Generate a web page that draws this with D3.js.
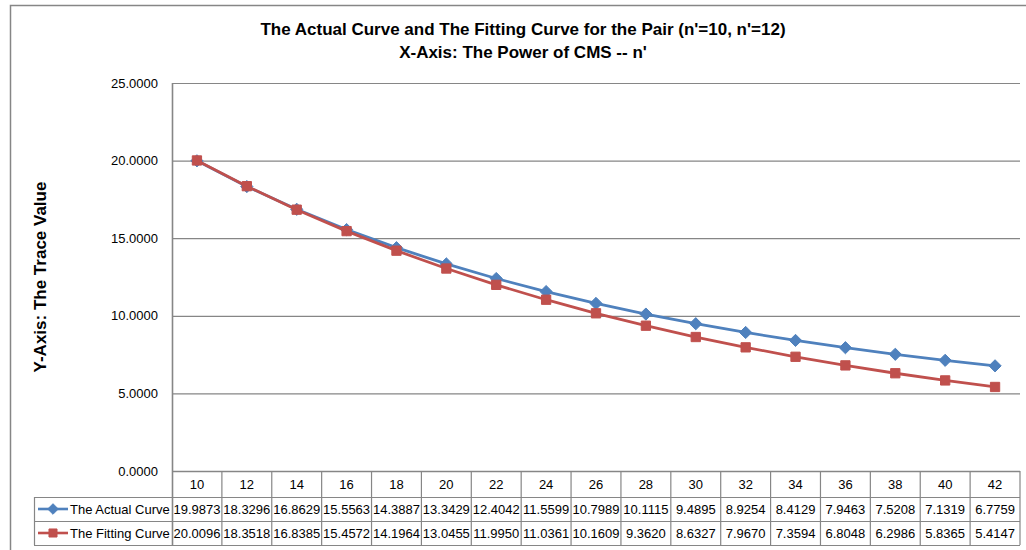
<!DOCTYPE html>
<html>
<head>
<meta charset="utf-8">
<script src="https://cdn.jsdelivr.net/npm/d3@7"></script>
<style>
  html, body { margin: 0; padding: 0; background: #fff; }
  svg { display: block; }
  text { font-family: "Liberation Sans", Arial, sans-serif; fill: #000; }
</style>
</head>
<body>
<svg id="chart" width="1026" height="550"></svg>
<script>
// n' values along the x axis
const categories = [10, 12, 14, 16, 18, 20, 22, 24, 26, 28, 30, 32, 34, 36, 38, 40, 42];
// Trace values of the actual curve
const actualValues = [19.9873, 18.3296, 16.8629, 15.5563, 14.3887, 13.3429, 12.4042, 11.5599, 10.7989,
  10.1115, 9.4895, 8.9254, 8.4129, 7.9463, 7.5208, 7.1319, 6.7759];
// Trace values of the fitting curve
const fittingValues = [20.0096, 18.3518, 16.8385, 15.4572, 14.1964, 13.0455, 11.9950, 11.0361, 10.1609,
  9.3620, 8.6327, 7.9670, 7.3594, 6.8048, 6.2986, 5.8365, 5.4147];
const seriesNames = ["The Actual Curve", "The Fitting Curve"];
const yTicks = [0, 5, 10, 15, 20, 25];
const titleLines = ["The Actual Curve and The Fitting Curve for the Pair (n'=10, n'=12)",
  "X-Axis: The Power of CMS -- n'"];
const yAxisTitle = "Y-Axis: The Trace Value";

const series = [
  { name: seriesNames[0], values: actualValues, color: "#4F81BD", symbol: d3.symbolDiamond2, size: 95 },
  { name: seriesNames[1], values: fittingValues, color: "#C0504D", symbol: d3.symbolSquare2, size: 110 }
];

const svg = d3.select("#chart");
const gridColor = "#868686";
const plot = { left: 172, right: 1020, top: 83, bottom: 471 };

const x = d3.scaleBand().domain(categories).range([plot.left, plot.right]).padding(0);
const y = d3.scaleLinear().domain([0, 25]).range([plot.bottom, plot.top]);
const fmt = d3.format(".4f");

// chart frame (top and left edges)
svg.append("path")
  .attr("d", "M10.5,550 V5.5 H1026")
  .attr("fill", "none").attr("stroke", gridColor).attr("stroke-width", 1.5);

// titles
svg.append("g").selectAll("text").data(titleLines).join("text")
  .attr("x", 523).attr("y", (d, i) => 35 + i * 23)
  .attr("text-anchor", "middle")
  .attr("font-size", 17).attr("font-weight", "bold")
  .text(d => d);

svg.append("text")
  .attr("transform", "translate(46,277) rotate(-90)")
  .attr("text-anchor", "middle")
  .attr("font-size", 17).attr("font-weight", "bold")
  .text(yAxisTitle);

// horizontal gridlines and value labels
const yAxis = svg.append("g")
  .attr("transform", `translate(${plot.left},0)`)
  .call(d3.axisLeft(y).tickValues(yTicks).tickFormat(fmt)
    .tickSize(-(plot.right - plot.left)).tickPadding(14));
yAxis.select(".domain").remove();
yAxis.selectAll(".tick line").attr("stroke", gridColor).attr("stroke-width", 1.2);
yAxis.selectAll(".tick text").attr("font-size", 13).attr("font-family", "Liberation Sans, Arial, sans-serif").attr("fill", "#000");

// vertical axis line, extending down through the data table
svg.append("line")
  .attr("x1", plot.left + 0.5).attr("x2", plot.left + 0.5)
  .attr("y1", plot.top).attr("y2", 545)
  .attr("stroke", gridColor).attr("stroke-width", 1.6);

// data table below the plot
const rowTop = [plot.bottom, 497, 521, 545];
const tableLeft = 34;
const table = svg.append("g");

// horizontal rules
table.selectAll("line.h").data(rowTop).join("line")
  .attr("class", "h")
  .attr("x1", (d, i) => i < 1 ? plot.left : tableLeft).attr("x2", plot.right)
  .attr("y1", d => d + 0.5).attr("y2", d => d + 0.5)
  .attr("stroke", gridColor).attr("stroke-width", (d, i) => i === 0 ? 1.6 : 1.2);

// vertical rules between categories
table.selectAll("line.v").data(categories).join("line")
  .attr("class", "v")
  .attr("x1", d => x(d) + x.bandwidth()).attr("x2", d => x(d) + x.bandwidth())
  .attr("y1", plot.bottom).attr("y2", 545)
  .attr("stroke", gridColor).attr("stroke-width", 1.2);
table.append("line")
  .attr("x1", tableLeft + 0.5).attr("x2", tableLeft + 0.5)
  .attr("y1", 497).attr("y2", 545)
  .attr("stroke", gridColor).attr("stroke-width", 1.2);

// category labels
table.selectAll("text.cat").data(categories).join("text")
  .attr("class", "cat")
  .attr("x", d => x(d) + x.bandwidth() / 2)
  .attr("y", (rowTop[0] + rowTop[1]) / 2 + 5)
  .attr("text-anchor", "middle").attr("font-size", 13)
  .text(d => d);

// value rows with legend keys
series.forEach((s, r) => {
  const cy = (rowTop[r + 1] + rowTop[r + 2]) / 2;
  const row = table.append("g");
  row.selectAll("text.val").data(s.values).join("text")
    .attr("class", "val")
    .attr("x", (d, i) => x(categories[i]) + x.bandwidth() / 2)
    .attr("y", cy + 5)
    .attr("text-anchor", "middle").attr("font-size", 13)
    .text(d => fmt(d));
  row.append("line")
    .attr("x1", 38).attr("x2", 68).attr("y1", cy).attr("y2", cy)
    .attr("stroke", s.color).attr("stroke-width", 2.6);
  row.append("path")
    .attr("transform", `translate(53,${cy})`)
    .attr("d", d3.symbol().type(s.symbol).size(s.size * 0.75)())
    .attr("fill", s.color).attr("stroke", s.color).attr("stroke-width", 1);
  row.append("text")
    .attr("x", 70).attr("y", cy + 5)
    .attr("font-size", 13)
    .text(s.name);
});

// curves
const line = d3.line()
  .x((d, i) => x(categories[i]) + x.bandwidth() / 2)
  .y(d => y(d));

series.forEach(s => {
  const g = svg.append("g");
  g.append("path")
    .datum(s.values)
    .attr("d", line)
    .attr("fill", "none").attr("stroke", s.color)
    .attr("stroke-width", 2.8).attr("stroke-linejoin", "round");
  g.selectAll("path.marker").data(s.values).join("path")
    .attr("class", "marker")
    .attr("transform", (d, i) => `translate(${x(categories[i]) + x.bandwidth() / 2},${y(d)})`)
    .attr("d", d3.symbol().type(s.symbol).size(s.size)())
    .attr("fill", s.color).attr("stroke", s.color).attr("stroke-width", 1);
});
</script>
</body>
</html>
